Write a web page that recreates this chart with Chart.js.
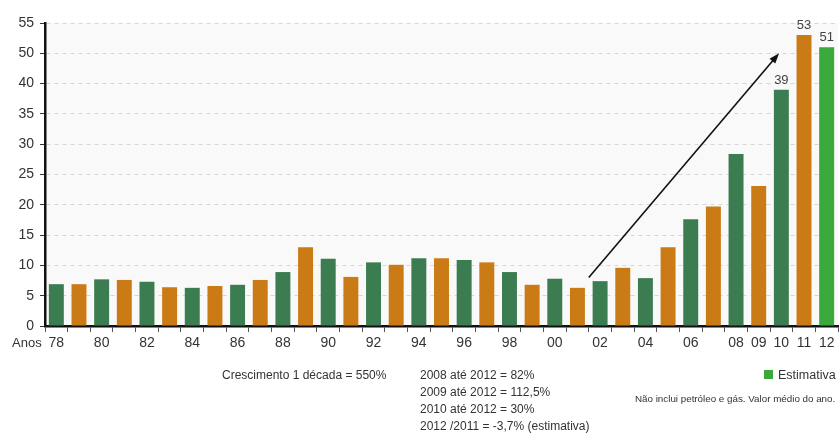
<!DOCTYPE html>
<html>
<head>
<meta charset="utf-8">
<script src="https://cdn.jsdelivr.net/npm/chart.js@4/dist/chart.umd.min.js"></script>
<style>
    body { margin: 0; background: #fff; font-family: "Liberation Sans", Arial, sans-serif; }
    #wrap { position: relative; width: 840px; height: 435px; }
    .note { position: absolute; font-size: 12px; color: #333; line-height: 17px; white-space: nowrap; }
    .swatch { display: inline-block; width: 9px; height: 9px; background: #3aa83a; margin-right: 5px; }
</style>
</head>
<body>
<div id="wrap">
    <canvas id="chart" width="840" height="435"></canvas>
    <div class="note" style="left:222px; top:367px;">Crescimento 1 década = 550%</div>
    <div class="note" style="left:420px; top:367px;">2008 até 2012 = 82%<br>2009 até 2012 = 112,5%<br>2010 até 2012 = 30%<br>2012 /2011 = -3,7% (estimativa)</div>
    <div class="note" style="left:764px; top:367px; font-size:12.5px;"><span class="swatch"></span>Estimativa</div>
    <div class="note" style="left:635px; top:390px; font-size:9.8px;">Não inclui petróleo e gás. Valor médio do ano.</div>
</div>
<script>
// Data
const years = ['78', '79', '80', '81', '82', '83', '84', '85', '86', '87', '88', '89', '90', '91', '92', '93', '94',
    '95', '96', '97', '98', '99', '00', '01', '02', '03', '04', '05', '06', '07', '08', '09', '10', '11', '12'];
const values = [6.9, 6.9, 7.7, 7.6, 7.3, 6.4, 6.3, 6.6, 6.8, 7.6, 8.9, 13.0, 11.1, 8.1, 10.5, 10.1, 11.2,
    11.2, 10.9, 10.5, 8.9, 6.8, 7.8, 6.3, 7.4, 9.6, 7.9, 13.0, 17.6, 19.7, 28.4, 23.1, 39, 53, 51];
const shownYears = ['78', '80', '82', '84', '86', '88', '90', '92', '94', '96', '98', '00', '02', '04', '06',
    '08', '09', '10', '11', '12'];
const estimateYears = ['12'];
const labeledYears = ['10', '11', '12'];
// the y axis is evenly spaced but its labels jump from 40 to 50
const yTickLabels = [0, 5, 10, 15, 20, 25, 30, 35, 40, 50, 55];
// arrow from just after 2001 up towards 2010
const arrowFrom = { year: 23.5, value: 8 };
const arrowTo = { year: 31.9, value: 50 };

const GREEN = '#3b7c50', ORANGE = '#cb7b16', LIGHT_GREEN = '#3aa83a';

// map a real value onto the evenly spaced axis
function toAxis(v) {
    for (let i = 0; i < yTickLabels.length - 1; i++) {
        const a = yTickLabels[i], b = yTickLabels[i + 1];
        if (v <= b) return 5 * (i + (v - a) / (b - a));
    }
    return 5 * (yTickLabels.length - 1);
}

const barColors = years.map((y, i) => estimateYears.includes(y) ? LIGHT_GREEN : (i % 2 === 0 ? GREEN : ORANGE));

Chart.defaults.font.family = '"Liberation Sans", Arial, sans-serif';
Chart.defaults.color = '#333';

const plotBackground = {
    id: 'plotBackground',
    beforeDraw(chart) {
        const { ctx, chartArea: a } = chart;
        ctx.save();
        ctx.fillStyle = '#f9f9f9';
        ctx.fillRect(a.left, a.top, a.right - a.left, a.bottom - a.top);
        ctx.restore();
    }
};

const extras = {
    id: 'extras',
    afterDatasetsDraw(chart) {
        const { ctx, scales: { x, y } } = chart;
        const meta = chart.getDatasetMeta(0);
        ctx.save();
        // value labels above the last bars
        ctx.font = '13px "Liberation Sans", Arial, sans-serif';
        ctx.fillStyle = '#444';
        ctx.textAlign = 'center';
        ctx.textBaseline = 'bottom';
        years.forEach((yr, i) => {
            if (!labeledYears.includes(yr)) return;
            const bar = meta.data[i];
            ctx.fillText(String(values[i]), bar.x, bar.y - 3);
        });
        // arrow
        const x0 = x.getPixelForValue(arrowFrom.year), y0 = y.getPixelForValue(toAxis(arrowFrom.value));
        const x1 = x.getPixelForValue(arrowTo.year), y1 = y.getPixelForValue(toAxis(arrowTo.value));
        const ang = Math.atan2(y1 - y0, x1 - x0);
        const head = 11;
        ctx.strokeStyle = '#111';
        ctx.fillStyle = '#111';
        ctx.lineWidth = 1.6;
        ctx.beginPath();
        ctx.moveTo(x0, y0);
        ctx.lineTo(x1 - head * 0.8 * Math.cos(ang), y1 - head * 0.8 * Math.sin(ang));
        ctx.stroke();
        ctx.beginPath();
        ctx.moveTo(x1, y1);
        ctx.lineTo(x1 - head * Math.cos(ang - 0.35), y1 - head * Math.sin(ang - 0.35));
        ctx.lineTo(x1 - head * Math.cos(ang + 0.35), y1 - head * Math.sin(ang + 0.35));
        ctx.closePath();
        ctx.fill();
        // "Anos" to the left of the year labels
        ctx.font = '13px "Liberation Sans", Arial, sans-serif';
        ctx.fillStyle = '#333';
        ctx.textAlign = 'left';
        ctx.textBaseline = 'middle';
        ctx.fillText('Anos', 12, 343);
        ctx.restore();
    }
};

new Chart(document.getElementById('chart'), {
    type: 'bar',
    data: {
        labels: years,
        datasets: [{
            data: values.map(toAxis),
            backgroundColor: barColors,
            borderWidth: 0,
            barPercentage: 0.66,
            categoryPercentage: 1
        }]
    },
    options: {
        responsive: false,
        animation: false,
        events: [],
        layout: { padding: { top: 23, right: 2, left: 0, bottom: 0 } },
        plugins: { legend: { display: false }, tooltip: { enabled: false } },
        scales: {
            x: {
                afterFit(scale) { scale.height = 109; },
                grid: { drawOnChartArea: false, offset: true, tickLength: 6, color: '#555', lineWidth: 1 },
                border: { color: '#111', width: 2.5 },
                ticks: {
                    autoSkip: false,
                    maxRotation: 0,
                    padding: 3,
                    font: { size: 14 },
                    color: '#333',
                    callback(v, i) { return shownYears.includes(years[i]) ? years[i] : ''; }
                }
            },
            y: {
                min: 0,
                max: 50,
                afterFit(scale) { scale.width = 45; },
                grid: { color: '#d6d6d6', tickColor: '#333', tickLength: 5, tickBorderDash: [] },
                border: { color: '#111', width: 2.5, dash: [4, 4] },
                ticks: {
                    stepSize: 5,
                    padding: 6,
                    font: { size: 14 },
                    color: '#333',
                    callback(v) { return String(yTickLabels[Math.round(v / 5)]); }
                }
            }
        }
    },
    plugins: [plotBackground, extras]
});
</script>
</body>
</html>
